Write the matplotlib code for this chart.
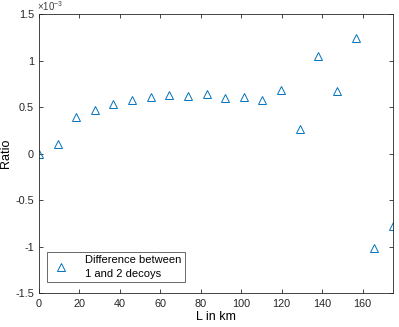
import numpy as np
import matplotlib
matplotlib.use('Agg')
import matplotlib.pyplot as plt
from matplotlib.ticker import FuncFormatter

# distance (km) and ratio difference
L_km = [0, 9.2, 18.4, 27.6, 36.8, 46.1, 55.3, 64.5, 73.7, 82.9,
        92.1, 101.3, 110.5, 119.7, 128.9, 138.2, 147.4, 156.6, 165.8, 175]
ratio = [0.000, 0.104, 0.395, 0.470, 0.534, 0.573, 0.610, 0.627, 0.620, 0.640,
         0.600, 0.607, 0.578, 0.686, 0.264, 1.047, 0.675, 1.243, -1.013, -0.781]
ratio = np.array(ratio) * 1e-3

x_ticks = [0, 20, 40, 60, 80, 100, 120, 140, 160]
y_ticks = [-1.5e-3, -1e-3, -0.5e-3, 0, 0.5e-3, 1e-3, 1.5e-3]

plt.rcParams['font.family'] = ['Liberation Sans', 'DejaVu Sans']
plt.rcParams['mathtext.fontset'] = 'custom'
plt.rcParams['mathtext.rm'] = 'Liberation Sans'

fig = plt.figure(figsize=(3.99, 3.27), dpi=100)
ax = fig.add_axes([0.0977, 0.104, 0.887, 0.853])

ax.plot(L_km, ratio, linestyle='none', marker='^', markersize=6,
        markerfacecolor='none', markeredgecolor='#0072BD', markeredgewidth=0.7,
        label='Difference between\n1 and 2 decoys')

ax.set_xlim(0, 175)
ax.set_ylim(-1.5e-3, 1.5e-3)
ax.set_xticks(x_ticks)
ax.set_yticks(y_ticks)
ax.yaxis.set_major_formatter(FuncFormatter(lambda v, p: '%g' % round(v * 1e3, 3)))

# exponent label like MATLAB
ax.text(-0.006, 1.004, r'$\times10^{-3}$', transform=ax.transAxes, fontsize=7,
        color='#404040', ha='left', va='bottom')

ax.tick_params(direction='in', length=3, width=0.6, labelsize=7.8,
               colors='#262626', top=True, right=True)
ax.tick_params(axis='x', pad=4)
for s in ax.spines.values():
    s.set_linewidth(0.6)
    s.set_color('#262626')

ax.set_xlabel('L in km', fontsize=9, labelpad=2)
ax.set_ylabel('Ratio', fontsize=9)
ax.yaxis.set_label_coords(-0.075, 0.5)

leg = ax.legend(loc='lower left', bbox_to_anchor=(0.015, 0.03), fontsize=8,
                frameon=True, fancybox=False, edgecolor='#262626',
                handlelength=2.0, handletextpad=1.2, borderpad=0.3,
                borderaxespad=0.2)
leg.get_frame().set_linewidth(0.6)
for t in leg.get_texts():
    t.set_linespacing(1.45)

fig.savefig('out.png', dpi=100)
